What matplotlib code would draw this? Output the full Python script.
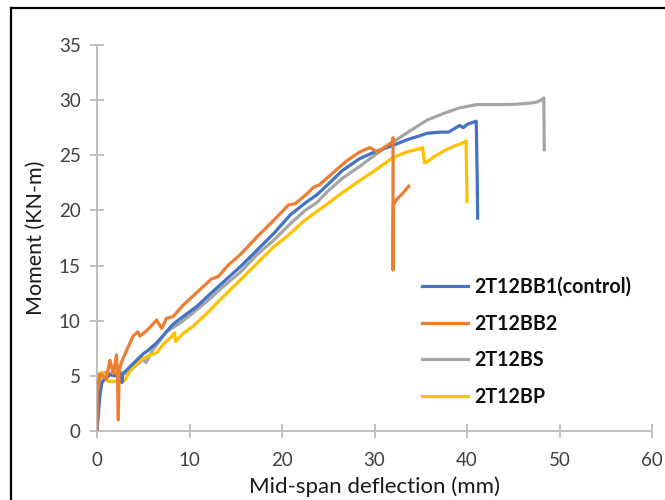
import matplotlib
matplotlib.use("Agg")
import matplotlib.pyplot as plt
from matplotlib.lines import Line2D

# ---------------- data ----------------
bb1_x = [0, 0.3, 0.5, 0.7, 1.0, 1.4, 2.0, 2.5, 2.7, 2.8, 3.3, 3.9, 5.0, 5.5, 6.45, 7.3, 8.25,
         9.5, 10.8, 12.2, 13.65, 15.5, 17.3, 19.1, 20.9, 22.7, 23.75, 24.9, 26.5, 28.4, 30.0,
         32.0, 33.5, 35.0, 35.7, 37.1, 38.0, 39.2, 39.6, 40.0, 41.0, 41.1, 41.15]
bb1_y = [0, 3.1, 4.3, 4.6, 4.8, 5.1, 5.0, 5.2, 4.4, 5.2, 5.6, 6.1, 7.0, 7.3, 8.0, 8.8, 9.7,
         10.5, 11.3, 12.4, 13.5, 14.9, 16.4, 17.9, 19.6, 20.8, 21.4, 22.3, 23.6, 24.7, 25.3,
         25.9, 26.4, 26.8, 27.0, 27.1, 27.1, 27.7, 27.5, 27.8, 28.1, 23.0, 19.3]

bb2_x = [0, 0.05, 0.15, 0.3, 0.6, 1.0, 1.4, 1.76, 2.1, 2.2, 2.3, 2.4, 2.67, 3.2, 3.9, 4.4,
         4.65, 5.5, 6.45, 7.0, 7.5, 8.25, 9.3, 11.1, 12.4, 13.1, 14.2, 15.5, 17.3, 19.1, 20.7,
         21.4, 22.7, 23.4, 24.0, 25.9, 27.0, 28.4, 29.5, 30.3, 31.4, 31.9, 32.0, 32.0, 32.05,
         32.4, 33.0, 33.7]
bb2_y = [0, 4.5, 3.8, 5.2, 5.0, 4.7, 6.4, 5.2, 6.9, 5.5, 1.0, 5.5, 6.3, 7.3, 8.6, 9.0,
         8.6, 9.2, 10.06, 9.3, 10.2, 10.4, 11.4, 12.8, 13.8, 14.0, 15.05, 16.0, 17.6, 19.1, 20.5,
         20.6, 21.5, 22.1, 22.3, 23.7, 24.5, 25.3, 25.7, 25.3, 25.9, 26.2, 26.6, 14.6, 20.5,
         21.0, 21.5, 22.2]

bs_x = [0, 0.2, 0.4, 0.8, 1.4, 2.0, 2.6, 3.2, 4.0, 5.0, 5.3, 6.0, 7.5, 9.0, 10.8, 12.2, 13.65,
        15.5, 17.3, 19.1, 20.9, 22.5, 23.75, 24.9, 26.5, 28.4, 30.0, 32.0, 34.0, 35.7, 37.5,
        39.2, 41.1, 43.0, 44.6, 46.5, 47.5, 48.2, 48.3, 48.35]
bs_y = [0, 4.0, 5.0, 5.3, 5.2, 5.2, 5.3, 5.2, 5.8, 6.5, 6.2, 7.3, 9.0, 9.8, 11.0, 12.0, 13.1,
        14.4, 16.0, 17.3, 18.8, 20.0, 20.7, 21.7, 22.9, 24.0, 25.0, 26.2, 27.3, 28.2, 28.8,
        29.3, 29.6, 29.6, 29.6, 29.7, 29.8, 30.1, 30.2, 25.5]

bp_x = [0, 0.15, 0.5, 0.7, 1.2, 1.8, 2.8, 3.0, 3.6, 4.65, 5.5, 6.45, 7.2, 8.0, 8.4, 8.5, 9.3,
        10.4, 11.9, 13.3, 15.5, 17.3, 19.1, 20.9, 22.3, 23.75, 24.9, 26.5, 28.4, 30.0, 32.0,
        33.5, 34.9, 35.2, 35.4, 35.7, 36.5, 37.5, 38.5, 39.5, 39.9, 40.0]
bp_y = [0, 4.9, 5.3, 5.2, 4.5, 4.5, 4.5, 4.6, 5.5, 6.4, 6.8, 7.1, 7.9, 8.5, 8.9, 8.1, 8.85,
        9.5, 10.7, 11.9, 13.7, 15.2, 16.7, 17.9, 19.0, 19.9, 20.6, 21.6, 22.7, 23.6, 24.8,
        25.3, 25.6, 25.7, 24.3, 24.4, 24.9, 25.4, 25.8, 26.1, 26.3, 20.8]

series_labels = ["2T12BB1(control)", "2T12BB2", "2T12BS", "2T12BP"]
series_colors = ["#4472C4", "#ED7D31", "#A5A5A5", "#FFC000"]

x_ticks = [0, 10, 20, 30, 40, 50, 60]
y_ticks = [0, 5, 10, 15, 20, 25, 30, 35]
x_label = "Mid-span deflection (mm)"
y_label = "Moment (KN-m)"

# ---------------- figure ----------------
W, H = 665, 500
fig = plt.figure(figsize=(W / 100, H / 100), dpi=100)
ax = fig.add_axes([97 / W, (H - 431) / H, (652 - 97) / W, (431 - 45) / H])

font = "Lato"
data = [(bb1_x, bb1_y), (bb2_x, bb2_y), (bs_x, bs_y), (bp_x, bp_y)]
zorders = [4, 5, 2, 3]
handles = []
for i in range(4):
    xs, ys = data[i]
    ln, = ax.plot(xs, ys, color=series_colors[i], lw=2.3, solid_joinstyle="round",
                  zorder=zorders[i], label=series_labels[i])
    handles.append(ln)

ax.set_xlim(0, 60)
ax.set_ylim(0, 35)
ax.set_xticks(x_ticks)
ax.set_yticks(y_ticks)
ax.set_xticklabels([str(t) for t in x_ticks])
ax.set_yticklabels([str(t) for t in y_ticks])

for s in ["top", "right"]:
    ax.spines[s].set_visible(False)
for s in ["left", "bottom"]:
    ax.spines[s].set_color("#BFBFBF")
    ax.spines[s].set_linewidth(1.4)

ax.tick_params(axis="both", direction="inout", length=9.5, width=1.4, color="#BFBFBF",
               labelsize=13.5, labelcolor="#404040")
ax.tick_params(axis="y", pad=7)
ax.tick_params(axis="x", pad=10.5)
for lab in ax.get_xticklabels() + ax.get_yticklabels():
    lab.set_fontfamily(font)

ax.set_xlabel(x_label, fontsize=16, family=font, color="#1a1a1a", labelpad=5.5)
ax.set_ylabel(y_label, fontsize=15.5, family=font, color="#1a1a1a", labelpad=9)

leg = ax.legend(handles, series_labels,
                loc="upper left", bbox_to_anchor=(422 / W, (H - 277) / H),
                bbox_transform=fig.transFigure, frameon=False,
                prop={"family": font, "weight": "bold", "size": 14.1},
                handlelength=2.37, handletextpad=0.32, labelspacing=0.85,
                borderpad=0, borderaxespad=0)
for t in leg.get_texts():
    t.set_color("#0d0d0d")

# outer black frame (partly cropped in the reference)
fig.add_artist(Line2D([10.5 / W, 10.5 / W], [0, 1 - 8 / H], transform=fig.transFigure,
                      color="black", lw=1.6))
fig.add_artist(Line2D([10.5 / W, 1], [1 - 8 / H, 1 - 8 / H], transform=fig.transFigure,
                      color="black", lw=1.6))

fig.savefig("out.png", dpi=100)
